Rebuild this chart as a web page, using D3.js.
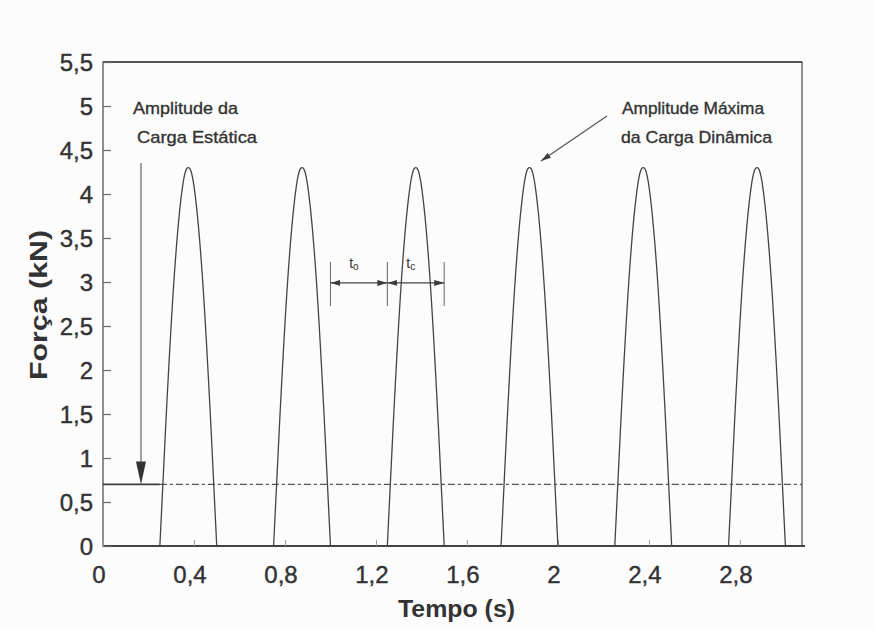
<!DOCTYPE html>
<html>
<head>
<meta charset="utf-8">
<script src="https://cdn.jsdelivr.net/npm/d3@7/dist/d3.min.js"></script>
<style>
  html, body { margin: 0; padding: 0; background: #fcfcfc; }
  svg { display: block; }
  text { font-family: "Liberation Sans", Arial, sans-serif; fill: #333; }
</style>
</head>
<body>
<svg id="chart" width="874" height="629"></svg>
<script>
// ---- data ----
const pulseStarts = [0.25, 0.75, 1.25, 1.75, 2.25, 2.75];   // s
const pulseDuration = 0.25;                                  // s (t_c)
// pulse profile: fraction of pulse duration vs force (kN)
const profileFrac  = [0, 0.1, 0.25, 0.4, 0.5, 0.6, 0.75, 0.9, 1];
const profileForce = [0, 1.33, 3.04, 4.09, 4.3, 4.09, 3.04, 1.33, 0];
const staticLoad = 0.7;                                      // kN
const xTickValues = [0, 0.4, 0.8, 1.2, 1.6, 2.0, 2.4, 2.8];
const xTickLabels = ["0", "0,4", "0,8", "1,2", "1,6", "2", "2,4", "2,8"];
const yTickValues = [0, 0.5, 1, 1.5, 2, 2.5, 3, 3.5, 4, 4.5, 5, 5.5];
const yTickLabels = ["0", "0,5", "1", "1,5", "2", "2,5", "3", "3,5", "4", "4,5", "5", "5,5"];
const xTitle = "Tempo (s)";
const yTitle = "Força (kN)";
const staticNote = ["Amplitude da", "Carga Estática"];
const dynamicNote = ["Amplitude Máxima", "da Carga Dinâmica"];
const staticArrowTime = 0.167;
const intervalMarks = [1.0, 1.25, 1.5];
const intervalLevel = 2.99;

// ---- layout ----
const L = 103, R = 802, T = 62, B = 546;
const ink = "#3c3c3c";
const svg = d3.select("#chart");

const x = d3.scaleLinear().domain([0, 3.073]).range([L, R]);
const y = d3.scaleLinear().domain([0, 5.5]).range([B, T]);

const defs = svg.append("defs");
function marker(id, path, refX) {
  defs.append("marker").attr("id", id)
    .attr("viewBox", "0 0 10 10").attr("refX", refX).attr("refY", 5)
    .attr("markerWidth", 10).attr("markerHeight", 10)
    .attr("markerUnits", "userSpaceOnUse").attr("orient", "auto")
    .append("path").attr("d", path).attr("fill", ink);
}
marker("headEnd", "M0,2 L10,5 L0,8 Z", 10);
marker("headStart", "M10,2 L0,5 L10,8 Z", 0);

// frame
svg.append("rect").attr("x", L).attr("y", T).attr("width", R - L).attr("height", B - T)
  .attr("fill", "none").attr("stroke", "#555").attr("stroke-width", 1.3);
svg.append("line").attr("x1", L).attr("x2", R).attr("y1", T).attr("y2", T)
  .attr("stroke", "#555").attr("stroke-width", 2.2);
svg.append("line").attr("x1", L).attr("x2", R + 3).attr("y1", B).attr("y2", B)
  .attr("stroke", "#444").attr("stroke-width", 2.2);

// y axis (ticks inside)
const yAxis = d3.axisRight(y).tickValues(yTickValues).tickSize(8).tickFormat("");
const gy = svg.append("g").attr("transform", `translate(${L},0)`).call(yAxis);
gy.select(".domain").remove();
gy.selectAll("line").attr("stroke", "#666").attr("stroke-width", 1.2);
svg.append("g").selectAll("text").data(yTickValues).join("text")
  .attr("x", 93).attr("y", d => y(d) + 8.5)
  .attr("text-anchor", "end").attr("font-size", 24)
  .attr("stroke", "#333").attr("stroke-width", 0.4)
  .text((d, i) => yTickLabels[i]);

// x axis (ticks inside, faint)
const xAxis = d3.axisTop(x).tickValues(xTickValues).tickSize(6).tickFormat("");
const gx = svg.append("g").attr("transform", `translate(0,${B})`).call(xAxis);
gx.select(".domain").remove();
gx.selectAll("line").attr("stroke", "#999").attr("stroke-width", 1);
svg.append("g").selectAll("text").data(xTickValues).join("text")
  .attr("x", d => x(d) - 4).attr("y", 583)
  .attr("text-anchor", "middle").attr("font-size", 24)
  .attr("stroke", "#333").attr("stroke-width", 0.4)
  .text((d, i) => xTickLabels[i]);

// titles
svg.append("text").attr("x", 398).attr("y", 617)
  .attr("font-size", 23).attr("font-weight", "bold")
  .attr("textLength", 117).attr("lengthAdjust", "spacingAndGlyphs").text(xTitle);
svg.append("text").attr("transform", "translate(47,380) rotate(-90)")
  .attr("font-size", 24).attr("font-weight", "bold")
  .attr("textLength", 150).attr("lengthAdjust", "spacingAndGlyphs").text(yTitle);

// static load line
svg.append("line").attr("x1", x(0)).attr("x2", x(pulseStarts[0]))
  .attr("y1", y(staticLoad)).attr("y2", y(staticLoad))
  .attr("stroke", ink).attr("stroke-width", 1.8);
svg.append("line").attr("x1", x(pulseStarts[0])).attr("x2", R)
  .attr("y1", y(staticLoad)).attr("y2", y(staticLoad))
  .attr("stroke", "#555").attr("stroke-width", 1.3).attr("stroke-dasharray", "7,3,3,3");

// pulses
const line = d3.line().x(d => x(d[0])).y(d => y(d[1])).curve(d3.curveNatural);
pulseStarts.forEach(s => {
  const pts = profileFrac.map((f, i) => [s + f * pulseDuration, profileForce[i]]);
  svg.append("path").attr("d", line(pts)).attr("fill", "none")
    .attr("stroke", "#444").attr("stroke-width", 1.3);
});

// static arrow
const ax = x(staticArrowTime);
svg.append("line").attr("x1", ax).attr("x2", ax).attr("y1", 163).attr("y2", y(staticLoad) - 20)
  .attr("stroke", "#555").attr("stroke-width", 1.1);
svg.append("path")
  .attr("d", `M${ax - 5},${y(staticLoad) - 23} L${ax + 5},${y(staticLoad) - 23} L${ax},${y(staticLoad)} Z`)
  .attr("fill", "#333");

// dynamic arrow
svg.append("line").attr("x1", 607).attr("y1", 116).attr("x2", 541).attr("y2", 161)
  .attr("stroke", "#555").attr("stroke-width", 1.2).attr("marker-end", "url(#headEnd)");

// notes
const noteFont = 17;
function note(xp, yp, len, txt) {
  svg.append("text").attr("x", xp).attr("y", yp).attr("font-size", noteFont)
    .attr("stroke", "#333").attr("stroke-width", 0.35)
    .attr("textLength", len).attr("lengthAdjust", "spacingAndGlyphs").text(txt);
}
note(133, 114, 105, staticNote[0]);
note(137, 143, 120, staticNote[1]);
note(622, 114, 142, dynamicNote[0]);
note(621, 143, 151, dynamicNote[1]);

// interval markers t
intervalMarks.forEach(t => {
  svg.append("line").attr("x1", x(t)).attr("x2", x(t)).attr("y1", 262).attr("y2", 306)
    .attr("stroke", "#666").attr("stroke-width", 1);
});
for (let i = 0; i < intervalMarks.length - 1; i++) {
  svg.append("line").attr("x1", x(intervalMarks[i])).attr("x2", x(intervalMarks[i + 1]))
    .attr("y1", y(intervalLevel)).attr("y2", y(intervalLevel))
    .attr("stroke", "#444").attr("stroke-width", 1.3)
    .attr("marker-start", "url(#headStart)").attr("marker-end", "url(#headEnd)");
}
const subs = ["o", "c"];
for (let i = 0; i < intervalMarks.length - 1; i++) {
  const mid = (intervalMarks[i] + intervalMarks[i + 1]) / 2;
  const tx = svg.append("text").attr("x", x(mid) - 5).attr("y", 268).attr("font-size", 14)
    .attr("text-anchor", "middle");
  tx.append("tspan").text("t");
  tx.append("tspan").attr("font-size", 10).attr("dy", 2).text(subs[i]);
}
</script>
</body>
</html>
